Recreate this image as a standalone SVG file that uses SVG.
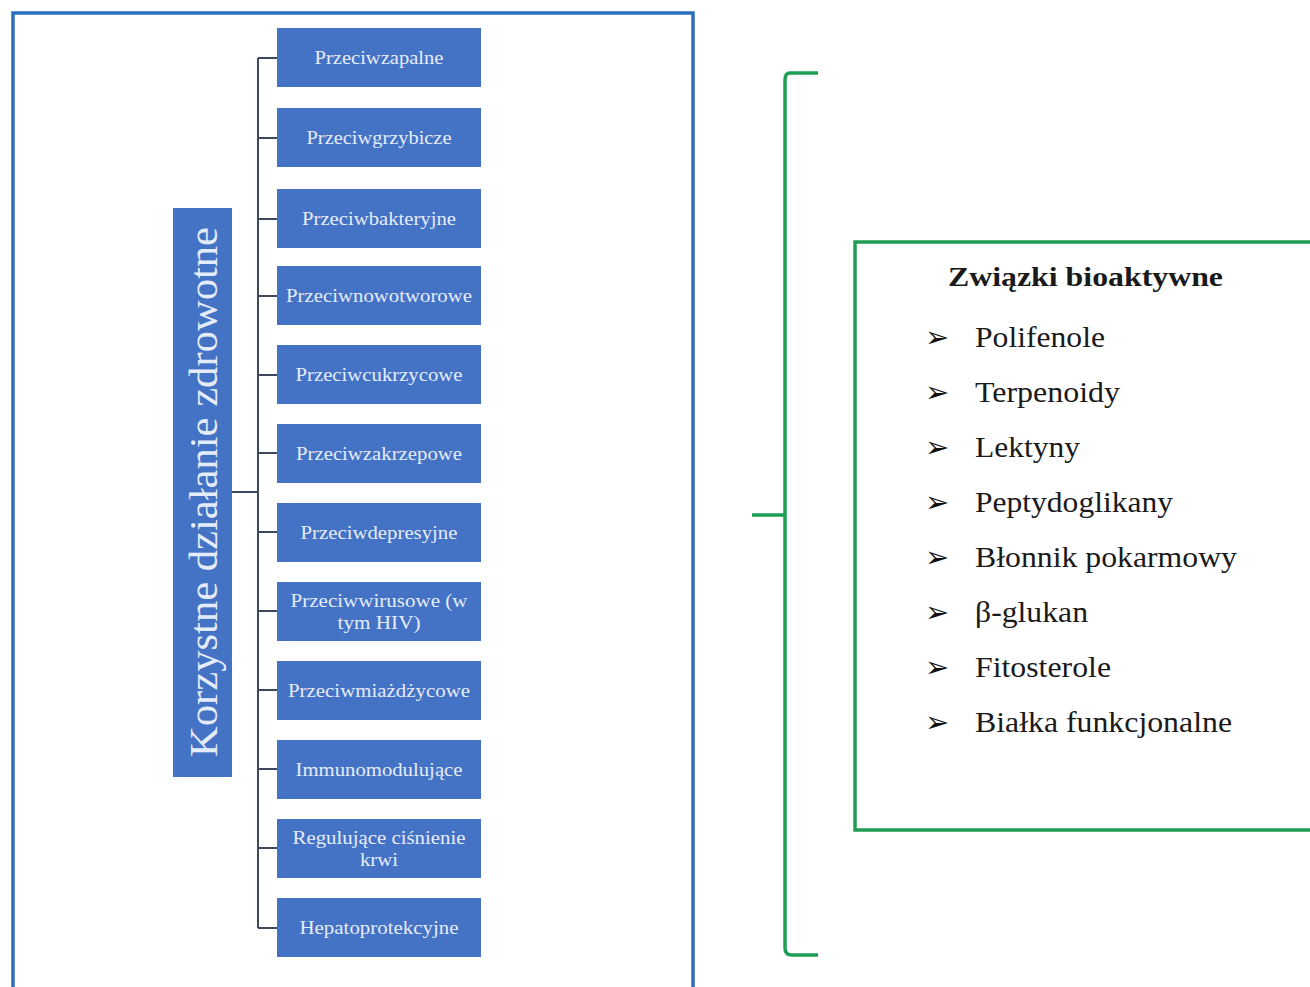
<svg xmlns="http://www.w3.org/2000/svg" width="1310" height="987" viewBox="0 0 1310 987">
<style>
.bx{fill:#4472c4;}
.bt{fill:#e4ecfa;font-family:"Liberation Serif",serif;font-size:19px;text-anchor:middle;}
.con{stroke:#3b4a5e;stroke-width:2;fill:none;}
.gr{stroke:#1e9e55;stroke-width:3.5;fill:none;}
.it{fill:#1a1a1a;font-family:"Liberation Serif",serif;font-size:29px;}
.ar{fill:#111111;font-family:"DejaVu Sans",sans-serif;font-size:29px;font-weight:bold;}
</style>
<rect x="0" y="0" width="1310" height="987" fill="#ffffff"/>
<rect id="outer" x="13" y="13" width="680" height="990" fill="none" stroke="#2a6fbf" stroke-width="3.5"/>
<g id="connectors">
<path class="con" d="M232 492H258M258 58V928M258 58H277M258 138H277M258 219H277M258 296H277M258 375H277M258 453H277M258 532H277M258 611H277M258 690H277M258 769H277M258 848H277M258 928H277"/>
<path class="gr" d="M818 73H790Q785 73 785 80V948Q785 955 792 955H818M752 515H785"/>
</g>
<g id="title">
<rect class="bx" x="173" y="208" width="59" height="569"/>
<text x="0" y="0" transform="translate(217 492) rotate(-90)" fill="#e4ecfa" font-family="Liberation Serif, serif" font-size="40" text-anchor="middle" textLength="530" lengthAdjust="spacingAndGlyphs">Korzystne działanie zdrowotne</text>
</g>
<g id="n1"><rect class="bx" x="277" y="28" width="204" height="59"/><text class="bt" x="379" y="64" textLength="129" lengthAdjust="spacingAndGlyphs">Przeciwzapalne</text></g>
<g id="n2"><rect class="bx" x="277" y="108" width="204" height="59"/><text class="bt" x="379" y="144" textLength="145" lengthAdjust="spacingAndGlyphs">Przeciwgrzybicze</text></g>
<g id="n3"><rect class="bx" x="277" y="189" width="204" height="59"/><text class="bt" x="379" y="225" textLength="154" lengthAdjust="spacingAndGlyphs">Przeciwbakteryjne</text></g>
<g id="n4"><rect class="bx" x="277" y="266" width="204" height="59"/><text class="bt" x="379" y="302" textLength="186" lengthAdjust="spacingAndGlyphs">Przeciwnowotworowe</text></g>
<g id="n5"><rect class="bx" x="277" y="345" width="204" height="59"/><text class="bt" x="379" y="381" textLength="167" lengthAdjust="spacingAndGlyphs">Przeciwcukrzycowe</text></g>
<g id="n6"><rect class="bx" x="277" y="424" width="204" height="59"/><text class="bt" x="379" y="460" textLength="166" lengthAdjust="spacingAndGlyphs">Przeciwzakrzepowe</text></g>
<g id="n7"><rect class="bx" x="277" y="503" width="204" height="59"/><text class="bt" x="379" y="539" textLength="157" lengthAdjust="spacingAndGlyphs">Przeciwdepresyjne</text></g>
<g id="n8"><rect class="bx" x="277" y="582" width="204" height="59"/><text class="bt" x="379" y="607" textLength="177" lengthAdjust="spacingAndGlyphs">Przeciwwirusowe (w</text><text class="bt" x="379" y="629" textLength="83" lengthAdjust="spacingAndGlyphs">tym HIV)</text></g>
<g id="n9"><rect class="bx" x="277" y="661" width="204" height="59"/><text class="bt" x="379" y="697" textLength="182" lengthAdjust="spacingAndGlyphs">Przeciwmiażdżycowe</text></g>
<g id="n10"><rect class="bx" x="277" y="740" width="204" height="59"/><text class="bt" x="379" y="776" textLength="167" lengthAdjust="spacingAndGlyphs">Immunomodulujące</text></g>
<g id="n11"><rect class="bx" x="277" y="819" width="204" height="59"/><text class="bt" x="379" y="844" textLength="173" lengthAdjust="spacingAndGlyphs">Regulujące ciśnienie</text><text class="bt" x="379" y="866" textLength="38" lengthAdjust="spacingAndGlyphs">krwi</text></g>
<g id="n12"><rect class="bx" x="277" y="898" width="204" height="59"/><text class="bt" x="379" y="934" textLength="159" lengthAdjust="spacingAndGlyphs">Hepatoprotekcyjne</text></g>
<g id="compounds">
<rect x="855" y="242" width="470" height="588" fill="none" stroke="#1e9e55" stroke-width="3.5"/>
<text x="948" y="286" fill="#1a1a1a" font-family="Liberation Serif, serif" font-size="27" font-weight="bold" textLength="275" lengthAdjust="spacingAndGlyphs">Związki bioaktywne</text>
<text class="ar" x="925" y="347">➢</text><text class="it" x="975" y="347" textLength="130" lengthAdjust="spacingAndGlyphs">Polifenole</text>
<text class="ar" x="925" y="402">➢</text><text class="it" x="975" y="402" textLength="145" lengthAdjust="spacingAndGlyphs">Terpenoidy</text>
<text class="ar" x="925" y="457">➢</text><text class="it" x="975" y="457" textLength="105" lengthAdjust="spacingAndGlyphs">Lektyny</text>
<text class="ar" x="925" y="512">➢</text><text class="it" x="975" y="512" textLength="198" lengthAdjust="spacingAndGlyphs">Peptydoglikany</text>
<text class="ar" x="925" y="567">➢</text><text class="it" x="975" y="567" textLength="262" lengthAdjust="spacingAndGlyphs">Błonnik pokarmowy</text>
<text class="ar" x="925" y="622">➢</text><text class="it" x="975" y="622" textLength="113" lengthAdjust="spacingAndGlyphs">β-glukan</text>
<text class="ar" x="925" y="677">➢</text><text class="it" x="975" y="677" textLength="136" lengthAdjust="spacingAndGlyphs">Fitosterole</text>
<text class="ar" x="925" y="732">➢</text><text class="it" x="975" y="732" textLength="257" lengthAdjust="spacingAndGlyphs">Białka funkcjonalne</text>
</g>
</svg>
